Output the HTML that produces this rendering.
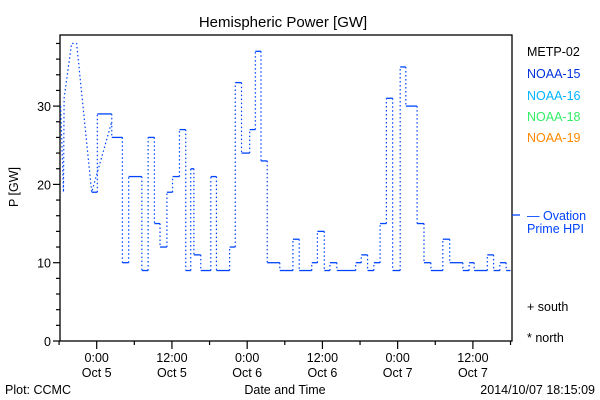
<!DOCTYPE html>
<html><head><meta charset="utf-8"><style>
html,body{margin:0;padding:0;background:#fff}
svg{display:block}
text{font-family:"Liberation Sans",sans-serif;font-size:12.5px}
</style></head><body>
<svg id="chart" width="600" height="400" viewBox="0 0 600 400">
<text x="283" y="27" text-anchor="middle" style="font-size:15px">Hemispheric Power [GW]</text>
<rect x="60" y="35" width="452" height="306" fill="none" stroke="#000" stroke-width="1.3"/>
<g id="yaxis"></g>
<g id="xaxis"></g>
<text transform="translate(18,187) rotate(-90)" text-anchor="middle">P [GW]</text>
<text x="285" y="394" text-anchor="middle">Date and Time</text>
<text x="5" y="394">Plot: CCMC</text>
<text x="595" y="394" text-anchor="end">2014/10/07 18:15:09</text>
<g id="series"></g>
<line x1="512" y1="215" x2="520" y2="215" stroke="#0044ff" stroke-width="1.3"/>
<g>
<text x="527" y="56" fill="#000">METP-02</text>
<text x="527" y="78" fill="#0033dd">NOAA-15</text>
<text x="527" y="100" fill="#00b4ff">NOAA-16</text>
<text x="527" y="121" fill="#33ee66">NOAA-18</text>
<text x="527" y="142" fill="#ff8800">NOAA-19</text>
<text x="527" y="220" fill="#0044ff">— Ovation</text>
<text x="527" y="233" fill="#0044ff">Prime HPI</text>
<text x="527" y="311" fill="#000">+ south</text>
<text x="527" y="342" fill="#000">* north</text>
</g>
</svg>
<script>
const yTicks=[0,10,20,30];
const xTickHours=[0,12,24,36,48,60];
const xTickTimes=["0:00","12:00","0:00","12:00","0:00","12:00"];
const xTickDates=["Oct 5","Oct 5","Oct 6","Oct 6","Oct 7","Oct 7"];
const earlyTimes=[-5.75,-5.3,-5.2,-4.0,-3.2,-0.8,2.4];
const earlyValues=[30,19,31,38,38,19,28];
const stepTimes=[-0.8,0.1,2.4,4.1,5.1,7.2,8.2,9.2,10.1,11.2,12.1,13.2,14.2,15.0,15.5,16.6,18.2,19.1,21.2,22.1,23.1,24.4,25.3,26.2,27.2,29.2,31.3,32.3,34.3,35.2,36.3,37.2,38.3,41.3,42.2,43.2,44.2,45.2,46.2,47.2,48.4,49.3,51.1,52.2,53.3,55.2,56.3,58.4,59.4,60.2,62.3,63.3,64.3,65.3];
const stepValues=[19,29,26,10,21,9,26,15,12,19,21,27,9,22,11,9,21,9,12,33,24,27,37,23,10,9,13,9,10,14,9,10,9,10,11,9,10,15,31,9,35,30,15,10,9,13,10,9,10,9,11,9,10,9];
const stepEnd=66;
const NS="http://www.w3.org/2000/svg";
const X=t=>96.7+6.27*t;
const Y=v=>341-7.83*v;
function mk(tag,attrs,parent){const e=document.createElementNS(NS,tag);for(const k in attrs)e.setAttribute(k,attrs[k]);parent.appendChild(e);return e;}
const ya=document.getElementById('yaxis'),xa=document.getElementById('xaxis'),sg=document.getElementById('series');
for(let v=0;v<=38;v+=2){const major=v%10===0;
 const l=mk('line',{x1:major?53:56,x2:60,y1:Y(v),y2:Y(v),stroke:'#000','stroke-width':1.2},ya);
 
 }
yTicks.forEach(v=>{const t=mk('text',{x:51,y:Y(v)+5,'text-anchor':'end'},ya);t.textContent=v;
 
 });
for(let h=-6;h<=66;h+=6){const major=h%12===0;
 const l=mk('line',{x1:X(h),x2:X(h),y1:341,y2:major?349:345,stroke:'#000','stroke-width':1.2},xa);
 
 }
xTickHours.forEach((h,i)=>{
 const a=mk('text',{x:X(h),y:362,'text-anchor':'middle'},xa);a.textContent=xTickTimes[i];
 
 
 const b=mk('text',{x:X(h),y:377,'text-anchor':'middle'},xa);b.textContent=xTickDates[i];
 
 });
const col='#0044ff';
const pl=mk('polyline',{points:earlyTimes.map((t,i)=>X(t)+','+Y(earlyValues[i])).join(' '),fill:'none',stroke:col,'stroke-width':1.2,'stroke-dasharray':'1.5 2.5'},sg);


stepTimes.forEach((t,i)=>{const t2=i+1<stepTimes.length?stepTimes[i+1]:stepEnd;
 const h=mk('line',{x1:X(t),x2:X(t2),y1:Y(stepValues[i]),y2:Y(stepValues[i]),stroke:col,'stroke-width':1.3},sg);
 
 
 if(i+1<stepTimes.length){
  const v=mk('line',{x1:X(t2),x2:X(t2),y1:Y(stepValues[i]),y2:Y(stepValues[i+1]),stroke:col,'stroke-width':1.2,'stroke-dasharray':'1.5 2.5'},sg);
  
  }
});
</script>
</body></html>
